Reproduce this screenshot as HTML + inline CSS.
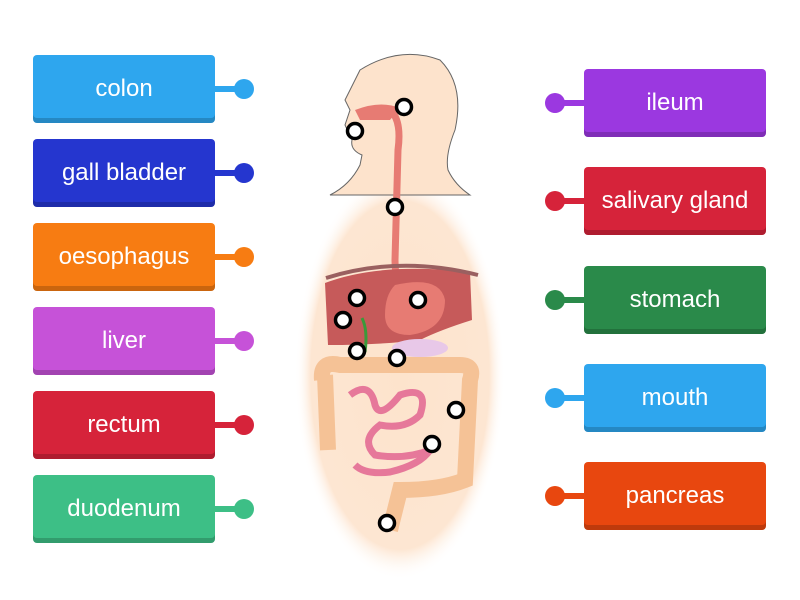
<!DOCTYPE html>
<html><head><style>
body{margin:0;width:800px;height:600px;background:#fff;position:relative;overflow:hidden;font-family:"Liberation Sans",sans-serif}
.b{position:absolute;width:182px;height:68px;border-radius:4px;color:#fff;font-size:24px;display:flex;align-items:center;justify-content:center;box-shadow:inset 0 -5px 0 rgba(0,0,0,0.18)}
.l{position:absolute;height:6px}
.d{position:absolute;width:20px;height:20px;border-radius:50%}
</style></head><body>
<svg width="800" height="600" style="position:absolute;left:0;top:0">
<defs><radialGradient id="g" cx="50%" cy="50%" r="50%"><stop offset="0" stop-color="#fde3cc"/><stop offset="0.85" stop-color="#fde6d2"/><stop offset="1" stop-color="#fff" stop-opacity="0"/></radialGradient></defs>
<ellipse cx="400" cy="375" rx="105" ry="205" fill="url(#g)"/>
<path d="M360 70 Q400 45 440 60 Q465 85 455 130 Q445 155 448 170 Q455 185 470 195 L330 195 Q350 185 360 165 L362 155 Q350 150 352 140 L345 125 L350 110 L345 100 Q355 80 360 70Z" fill="#fde3cc" stroke="#666" stroke-width="1"/>
<path d="M355 110 Q380 100 400 108 L390 120 L360 120Z" fill="#e77b73"/>
<path d="M390 110 Q402 120 398 150 L395 260 Q395 285 405 290" stroke="#e77b73" stroke-width="7" fill="none"/>
<path d="M325 283 Q380 262 470 272 L472 320 Q440 330 420 340 Q380 345 328 345Z" fill="#c65a5a"/>
<path d="M326 278 Q400 255 478 275" stroke="#9a6060" stroke-width="4" fill="none"/>
<path d="M395 285 Q440 275 445 300 Q445 330 410 335 Q385 335 385 315 Q385 295 395 285Z" fill="#e77b73"/>
<ellipse cx="420" cy="348" rx="28" ry="9" fill="#e8c8e8"/>
<path d="M322 380 Q320 360 340 365 L460 365 Q475 365 470 380 L465 480 Q440 490 400 490 L390 530" stroke="#f5c296" stroke-width="16" fill="none"/>
<path d="M325 375 L328 450" stroke="#f5c296" stroke-width="16" fill="none"/>
<path d="M350 395 Q370 380 375 405 Q380 420 400 395 Q430 385 420 415 Q405 430 380 425 Q360 440 375 455 Q405 460 430 450 Q420 465 390 472 Q365 475 355 465" stroke="#e6789a" stroke-width="7" fill="none"/>
<path d="M362 318 Q368 330 365 352" stroke="#3a9a3a" stroke-width="3" fill="none"/>
</svg>
<div class="b" style="left:33px;top:55px;background:#2ea6ee">colon</div>
<div class="b" style="left:33px;top:139px;background:#2536cf">gall bladder</div>
<div class="b" style="left:33px;top:223px;background:#f77c12">oesophagus</div>
<div class="b" style="left:33px;top:307px;background:#c652d8">liver</div>
<div class="b" style="left:33px;top:391px;background:#d6233a">rectum</div>
<div class="b" style="left:33px;top:475px;background:#3dbf86">duodenum</div>
<div class="l" style="left:215px;top:86px;width:25px;background:#2ea6ee"></div><div class="d" style="left:234px;top:79px;background:#2ea6ee"></div>
<div class="l" style="left:215px;top:170px;width:25px;background:#2536cf"></div><div class="d" style="left:234px;top:163px;background:#2536cf"></div>
<div class="l" style="left:215px;top:254px;width:25px;background:#f77c12"></div><div class="d" style="left:234px;top:247px;background:#f77c12"></div>
<div class="l" style="left:215px;top:338px;width:25px;background:#c652d8"></div><div class="d" style="left:234px;top:331px;background:#c652d8"></div>
<div class="l" style="left:215px;top:422px;width:25px;background:#d6233a"></div><div class="d" style="left:234px;top:415px;background:#d6233a"></div>
<div class="l" style="left:215px;top:506px;width:25px;background:#3dbf86"></div><div class="d" style="left:234px;top:499px;background:#3dbf86"></div>
<div class="b" style="left:584px;top:69px;background:#9b38e0">ileum</div>
<div class="b" style="left:584px;top:167px;background:#d6233a">salivary gland</div>
<div class="b" style="left:584px;top:266px;background:#2a8a4a">stomach</div>
<div class="b" style="left:584px;top:364px;background:#2ea6ee">mouth</div>
<div class="b" style="left:584px;top:462px;background:#e8470f">pancreas</div>
<div class="l" style="left:560px;top:100px;width:25px;background:#9b38e0"></div><div class="d" style="left:545px;top:93px;background:#9b38e0"></div>
<div class="l" style="left:560px;top:198px;width:25px;background:#d6233a"></div><div class="d" style="left:545px;top:191px;background:#d6233a"></div>
<div class="l" style="left:560px;top:297px;width:25px;background:#2a8a4a"></div><div class="d" style="left:545px;top:290px;background:#2a8a4a"></div>
<div class="l" style="left:560px;top:395px;width:25px;background:#2ea6ee"></div><div class="d" style="left:545px;top:388px;background:#2ea6ee"></div>
<div class="l" style="left:560px;top:493px;width:25px;background:#e8470f"></div><div class="d" style="left:545px;top:486px;background:#e8470f"></div>
<svg width="800" height="600" style="position:absolute;left:0;top:0">
<g fill="#fff" stroke="#000" stroke-width="3.5">
<circle cx="404" cy="107" r="7.5"/><circle cx="355" cy="131" r="7.5"/><circle cx="395" cy="207" r="7.5"/>
<circle cx="357" cy="298" r="7.5"/><circle cx="418" cy="300" r="7.5"/><circle cx="343" cy="320" r="7.5"/>
<circle cx="357" cy="351" r="7.5"/><circle cx="397" cy="358" r="7.5"/><circle cx="456" cy="410" r="7.5"/>
<circle cx="432" cy="444" r="7.5"/><circle cx="387" cy="523" r="7.5"/>
</g></svg>
</body></html>
